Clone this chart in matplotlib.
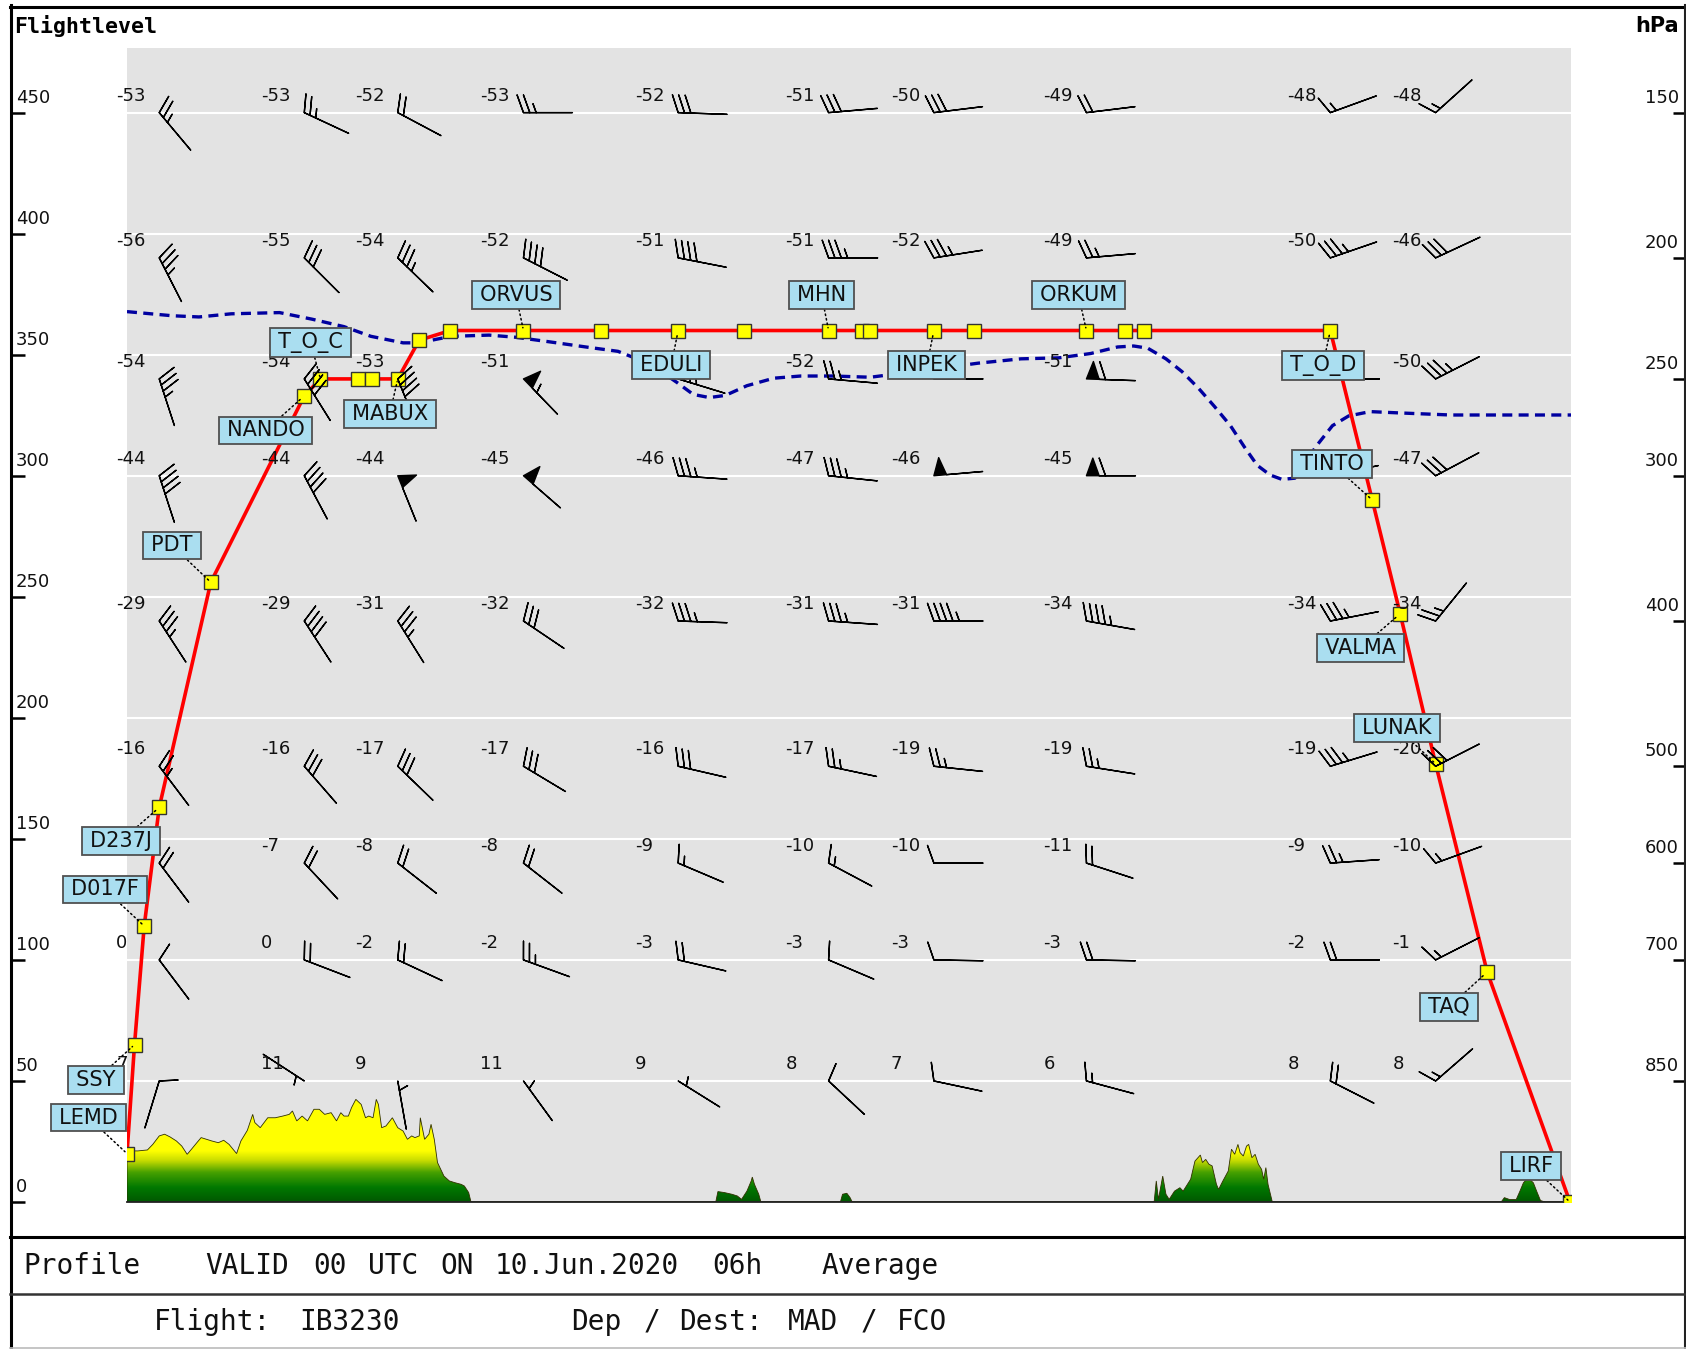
import numpy as np
import matplotlib
matplotlib.use("Agg")
import matplotlib.pyplot as plt
import matplotlib.transforms as mtransforms
from matplotlib.colors import LinearSegmentedColormap
from matplotlib.patches import Polygon
from matplotlib.lines import Line2D

# ---------------- data ----------------
route_len = 1344

wp_names = ['LEMD', 'SSY', 'D017F', 'D237J', 'PDT', 'NANDO', 'T_O_C', '', '', 'MABUX',
            '', '', 'ORVUS', '', 'EDULI', '', 'MHN', '', '', 'INPEK',
            '', 'ORKUM', '', '', 'T_O_D', 'TINTO', 'VALMA', 'LUNAK', 'TAQ', 'LIRF']
wp_dist = [0, 7, 16, 30, 78, 165, 180, 215, 228, 252,
           272, 301, 369, 441, 513, 574, 653, 684, 692, 751,
           788, 893, 929, 947, 1120, 1159, 1185, 1218, 1266, 1343]
wp_fl = [20, 65, 114, 163, 256, 333, 340, 340, 340, 340,
         356, 360, 360, 360, 360, 360, 360, 360, 360, 360,
         360, 360, 360, 360, 360, 290, 243, 181, 95, 0]

label_pos = {
    'LEMD': (-36, 34.9), 'SSY': (-29, 50.4), 'D017F': (-20.5, 129.1),
    'D237J': (-6, 149.0), 'PDT': (42, 271.2), 'NANDO': (129, 318.7),
    'T_O_C': (171, 355.0), 'MABUX': (244.5, 325.4), 'ORVUS': (362, 374.7),
    'EDULI': (506.5, 345.6), 'MHN': (646.5, 374.7), 'INPEK': (744.5, 345.6),
    'ORKUM': (885.5, 374.7), 'T_O_D': (1113, 345.6), 'TINTO': (1121.5, 305.0),
    'VALMA': (1148, 228.8), 'LUNAK': (1182, 195.9), 'TAQ': (1230.5, 80.6),
    'LIRF': (1307, 14.9),
}

trop_dist = [0, 42, 67, 97, 142, 172, 202, 227, 257, 272, 287, 302, 337, 362, 392,
             427, 457, 487, 512, 527, 542, 557, 577, 602, 627, 657, 692, 732, 762,
             792, 832, 867, 897, 922, 937, 950, 967, 982, 997, 1012, 1027, 1040,
             1052, 1064, 1075, 1087, 1107, 1122, 1137, 1157, 1182, 1232, 1282, 1344]
trop_fl = [367.8, 366.1, 365.6, 366.9, 367.4, 364.7, 361.6, 357.6, 354.9, 354.9, 356.3,
           357.6, 358.1, 357.2, 355.4, 353.2, 351.4, 346.1, 338.5, 333.6, 332.3, 333.2,
           337.2, 340.3, 341.2, 341.2, 340.7, 343.0, 344.7, 346.5, 348.3, 348.7, 350.5,
           353.2, 353.6, 352.7, 348.3, 343.0, 336.3, 328.7, 320.7, 311.9, 304.3, 300.3,
           298.5, 299.0, 312.3, 320.7, 324.7, 326.5, 326.0, 325.1, 325.1, 325.1]

terrain_dist = [0, 0, 10, 19, 24, 30, 35, 40, 46, 51, 56, 60, 65, 69, 74, 79, 85, 90, 95,
                102, 106, 112, 117, 119, 124, 131, 138, 145, 151, 154, 158, 163, 168,
                174, 179, 184, 190, 195, 199, 202, 206, 209, 213, 218, 222, 225, 229,
                232, 234, 237, 241, 247, 252, 257, 261, 265, 268, 272, 273, 277, 281,
                283, 286, 289, 295, 300, 305, 311, 314, 318, 320, 321,
                548, 550, 556, 563, 568, 572, 577, 581, 582, 584, 588, 590,
                664, 666, 670, 673, 675,
                956, 958, 960, 964, 967, 970, 975, 980, 983, 990, 994, 999, 1001, 1004,
                1007, 1010, 1014, 1016, 1020, 1025, 1028, 1031, 1034, 1036, 1039, 1042,
                1044, 1047, 1050, 1053, 1056, 1058, 1060, 1062, 1066,
                1279, 1282, 1287, 1293, 1296.5, 1299.7, 1304, 1309, 1312, 1315.6, 1320,
                1344]
terrain_fl = [0, 21.1, 21.1, 21.5, 23.8, 27.3, 28.0, 26.9, 25.2, 23.1, 19.7, 21.8, 24.5,
              26.6, 25.9, 25.2, 24.5, 25.5, 23.8, 20.0, 25.2, 29.6, 36.2, 32.8, 30.7,
              34.8, 34.8, 35.5, 36.2, 37.6, 33.5, 35.5, 33.5, 38.3, 38.3, 36.2, 36.9,
              33.5, 36.9, 35.5, 35.5, 39.0, 42.4, 40.3, 34.8, 35.5, 34.8, 42.4, 40.3,
              30.7, 31.4, 34.8, 30.7, 29.3, 25.9, 27.3, 26.6, 27.3, 34.8, 25.9, 28.0,
              32.1, 25.9, 16.3, 10.7, 8.7, 8.0, 7.3, 6.6, 3.9, 0.3, 0,
              0, 4.3, 3.9, 3.2, 2.5, 1.1, 4.5, 8.7, 10.3, 7.3, 3.2, 0,
              0, 3.2, 3.6, 1.8, 0,
              0, 8.7, 1.1, 10.7, 3.2, 1.1, 4.5, 5.9, 4.5, 9.4, 16.9, 19.4, 16.3, 17.6,
              15.6, 14.9, 7.3, 5.2, 8.7, 12.8, 21.8, 19.7, 23.8, 20.4, 19.0, 23.1,
              23.8, 18.3, 19.7, 15.6, 13.5, 9.4, 14.2, 7.3, 0,
              0, 1.8, 1.0, 1.0, 4.5, 7.9, 10.0, 7.9, 4.5, 0.6, 0,
              0]

fl_ticks = [0, 50, 100, 150, 200, 250, 300, 350, 400, 450]
hpa_labels = [150, 200, 250, 300, 400, 500, 600, 700, 850]
hpa_fl = [450, 390, 340, 300, 240, 180, 140, 100, 50]

barb_cols = ['D237J', 'NANDO', 'MABUX', 'ORVUS', 'EDULI', 'MHN', 'INPEK', 'ORKUM', 'T_O_D', 'LUNAK']

# None = temperature hidden under a waypoint box in the original
temps = [
    [-53, -53, -52, -53, -52, -51, -50, -49, -48, -48],
    [-56, -55, -54, -52, -51, -51, -52, -49, -50, -46],
    [-54, -54, -53, -51, None, -52, None, -51, None, -50],
    [-44, -44, -44, -45, -46, -47, -46, -45, None, -47],
    [-29, -29, -31, -32, -32, -31, -31, -34, -34, -34],
    [-16, -16, -17, -17, -16, -17, -19, -19, -19, -20],
    [None, -7, -8, -8, -9, -10, -10, -11, -9, -10],
    [0, 0, -2, -2, -3, -3, -3, -3, -2, -1],
    [7, 11, 9, 11, 9, 8, 7, 6, 8, 8],
]
wind_dir = [
    [320, 295, 298, 270, 272, 265, 263, 263, 250, 228],
    [333, 315, 314, 297, 281, 270, 261, 265, 251, 245],
    [342, 328, 338, 316, 287, 275, 270, 272, 270, 243],
    [342, 332, 338, 311, 274, 276, 265, 270, 258, 242],
    [327, 327, 328, 304, 272, 274, 270, 280, 259, 219],
    [323, 319, 314, 301, 283, 282, 276, 279, 253, 243],
    [323, 317, 308, 308, 293, 298, 270, 288, 266, 250],
    [323, 291, 295, 290, 283, 293, 271, 271, 270, 243],
    [17, 123, 350, 324, 302, 313, 282, 285, 297, 229],
]
wind_kt = [
    [25, 25, 20, 25, 30, 30, 30, 20, 15, 15],
    [35, 30, 35, 40, 40, 35, 35, 25, 35, 30],
    [35, 40, 40, 55, 40, 25, 30, 60, 35, 35],
    [40, 40, 50, 50, 35, 35, 50, 60, 40, 30],
    [35, 40, 35, 30, 35, 35, 45, 45, 35, 25],
    [25, 30, 30, 30, 30, 25, 25, 25, 35, 30],
    [20, 20, 20, 20, 15, 15, 10, 20, 25, 15],
    [10, 20, 20, 25, 20, 10, 10, 20, 20, 15],
    [10, 5, 5, 5, 5, 10, 10, 15, 20, 15],
]

profile_row1 = [("Profile", 0), ("VALID", 10), ("00", 16), ("UTC", 19), ("ON", 23),
                ("10.Jun.2020", 26), ("06h", 38), ("Average", 44)]
profile_row2 = [("Flight:", 0), ("IB3230", 8), ("Dep", 23), ("/", 27), ("Dest:", 29),
                ("MAD", 35), ("/", 39), ("FCO", 41)]

# ---------------- figure ----------------
W, H = 1686, 1349
DPI = 100
fig = plt.figure(figsize=(W / DPI, H / DPI), dpi=DPI)
fig.patch.set_facecolor('white')

ax_l, ax_r, ax_t, ax_b = 127, 1571, 48, 1202
ax = fig.add_axes([ax_l / W, 1 - ax_b / H, (ax_r - ax_l) / W, (ax_b - ax_t) / H])
ax.set_facecolor('#e3e3e3')

# terrain with vertical gradient
terr_cmap = LinearSegmentedColormap.from_list(
    'terr', [(0.0, '#005800'), (0.13, '#007800'), (0.27, '#46a000'),
             (0.38, '#c8dc00'), (0.47, '#ffff00'), (1.0, '#ffff00')])
grad = np.linspace(0, 45, 400).reshape(-1, 1)
im = ax.imshow(grad, extent=[0, route_len, 0, 45], origin='lower', cmap=terr_cmap,
               vmin=0, vmax=45, aspect='auto', zorder=2, interpolation='bilinear')
terr_poly = Polygon(np.column_stack([terrain_dist, terrain_fl]), closed=True,
                    facecolor='none', edgecolor='#303000', lw=0.6, zorder=2.1)
ax.add_patch(terr_poly)
im.set_clip_path(terr_poly)

ax.set_xlim(0, route_len)
ax.set_ylim(0, 476.7)
ax.set_xticks([])
ax.set_yticks(fl_ticks)
ax.yaxis.grid(True, color='white', lw=1.5, zorder=1)
ax.set_axisbelow(True)
for s in ['top', 'right']:
    ax.spines[s].set_visible(False)
ax.spines['bottom'].set_color('#222222')
ax.spines['bottom'].set_linewidth(1.3)
ax.spines['left'].set_color('none')
ax.spines['left'].set_position(('outward', (ax_l - 11) * 0.72))
ax.tick_params(axis='y', direction='in', length=10, width=1.8, color='black',
               labelleft=False)

ax2 = ax.twinx()
ax2.set_ylim(ax.get_ylim())
ax2.set_yticks(hpa_fl)
for s in ['top', 'left', 'bottom']:
    ax2.spines[s].set_visible(False)
ax2.spines['right'].set_color('none')
ax2.spines['right'].set_position(('outward', (1685 - ax_r) * 0.72))
ax2.tick_params(axis='y', direction='in', length=9, width=1.8, color='black',
                labelright=False)

# tick labels (above tick marks)
up = mtransforms.ScaledTranslation(0, 15 / DPI, fig.dpi_scale_trans)
tl = mtransforms.blended_transform_factory(fig.transFigure, ax.transData) + up
for v in fl_ticks:
    ax.text(16 / W, v, str(v), transform=tl, ha='left', va='center', fontsize=13,
            color='#111111', clip_on=False)
for p, v in zip(hpa_labels, hpa_fl):
    ax.text(1679 / W, v, str(p), transform=tl, ha='right', va='center', fontsize=13,
            color='#111111', clip_on=False)

fig.text(14 / W, 1 - 26 / H, 'Flightlevel', ha='left', va='center', fontsize=15.5,
         family='DejaVu Sans Mono', weight='bold')
fig.text(1679 / W, 1 - 26 / H, 'hPa', ha='right', va='center', fontsize=15,
         family='DejaVu Sans', weight='bold')

# flight profile
ax.plot(wp_dist, wp_fl, color='red', lw=2.6, zorder=4, solid_capstyle='round')
ax.plot(trop_dist, trop_fl, color='#0000a0', lw=2.4, ls=(0, (3.0, 1.9)), zorder=4.5)
ax.plot(wp_dist, wp_fl, ls='none', marker='s', ms=9.8, mfc='#ffff00', mec='#333333',
        mew=1.0, zorder=5)

# wind barbs + temperatures
col_x = [wp_dist[wp_names.index(n)] for n in barb_cols]
X, Y = np.meshgrid(col_x, hpa_fl)
d = np.radians(np.array(wind_dir, dtype=float))
spd = np.array(wind_kt, dtype=float)
U = -spd * np.sin(d)
V = -spd * np.cos(d)
L = 8.4
# 'height' = feather length across the staff, 'width' = flag length along it
ax.barbs(X, Y, U, V, length=L, pivot=-L, linewidth=1.0, barbcolor='black',
         flagcolor='black', sizes=dict(spacing=0.13, height=0.36, width=0.26),
         zorder=6)
for i, lev in enumerate(hpa_fl):
    for j, cx in enumerate(col_x):
        if temps[i][j] is None:
            continue
        ax.annotate(str(temps[i][j]), xy=(cx, lev), xytext=(-31, 12.2),
                    textcoords='offset points', ha='left', va='center',
                    fontsize=13, color='#111111', zorder=6)

# waypoint labels
for name, dx, fl in zip(wp_names, wp_dist, wp_fl):
    if not name:
        continue
    lx, ly = label_pos[name]
    ax.annotate('\u2009' + name + '\u2009', xy=(dx, fl), xytext=(lx, ly), textcoords='data',
                ha='center', va='center', fontsize=15, color='#111111',
                bbox=dict(boxstyle='square,pad=0.19', fc='#aadef0', ec='#505050', lw=1.3),
                arrowprops=dict(arrowstyle='-', color='black', lw=1.1, ls=(0, (1, 2)),
                                shrinkA=0, shrinkB=2),
                annotation_clip=False, zorder=10)

# frame and footer
def fline(x0, y0, x1, y1, lw, color='black'):
    fig.add_artist(Line2D([x0 / W, x1 / W], [1 - y0 / H, 1 - y1 / H], lw=lw,
                          color=color, transform=fig.transFigure))

fline(10, 6.5, W, 6.5, 2.2)
fline(11, 5, 11, H, 2.2)
fline(1684.5, 5, 1684.5, H, 1.5, '#222222')
fline(10, 1237, W, 1237, 2.2)
fline(10, 1294, W, 1294, 1.8, '#333333')
fline(10, 1347.5, W, 1347.5, 1.2, '#bbbbbb')

adv = 18.13
for word, col in profile_row1:
    fig.text((23.6 + col * adv) / W, 1 - 1266 / H, word, ha='left', va='center',
             fontsize=20, family='DejaVu Sans Mono', color='#111111')
for word, col in profile_row2:
    fig.text((153.8 + col * adv) / W, 1 - 1322 / H, word, ha='left', va='center',
             fontsize=20, family='DejaVu Sans Mono', color='#111111')

fig.savefig('out.png', dpi=DPI)
